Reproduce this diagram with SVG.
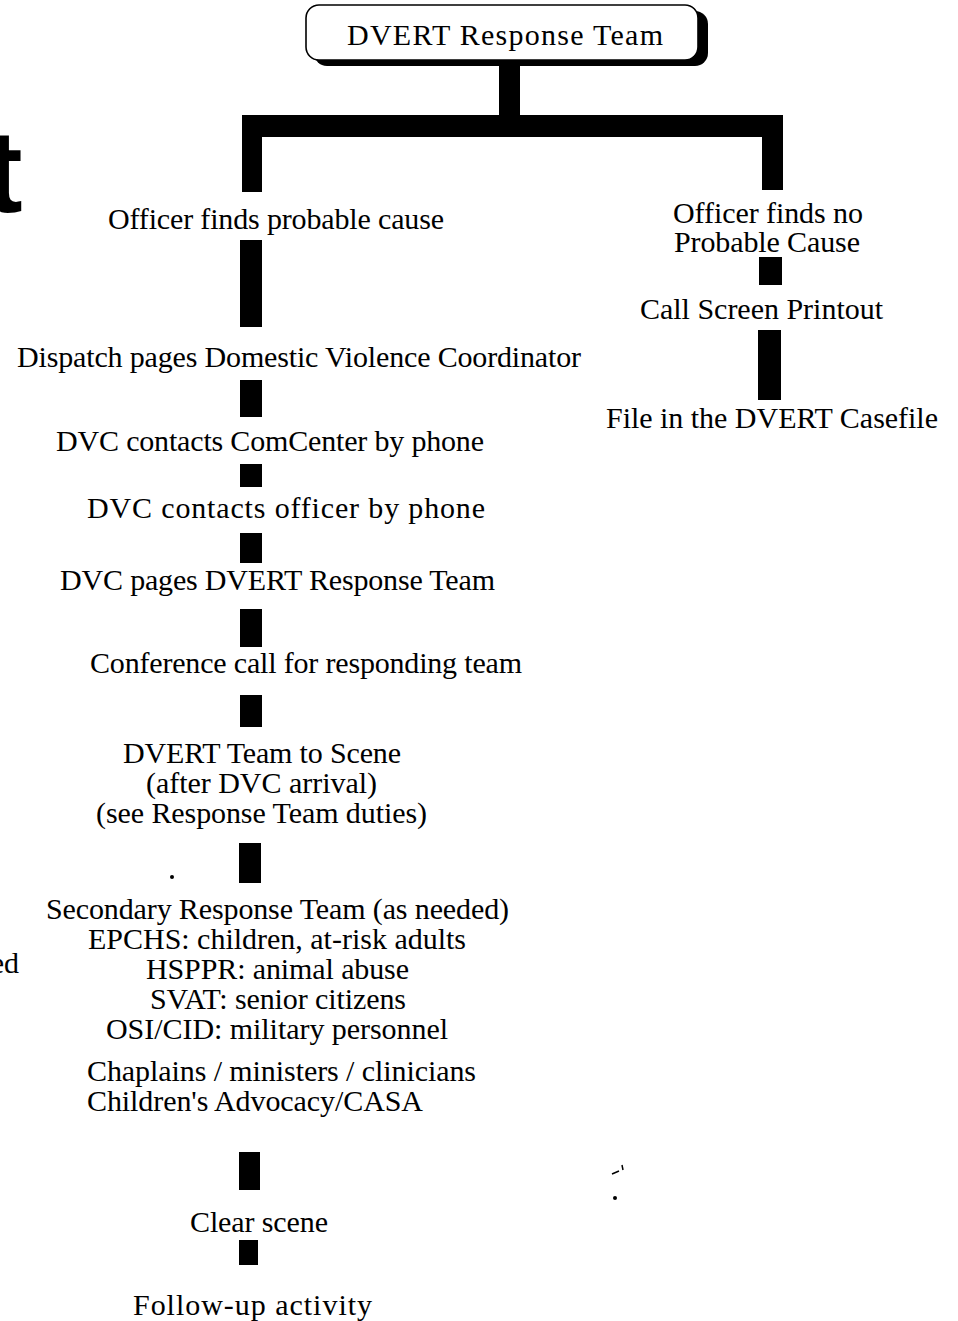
<svg xmlns="http://www.w3.org/2000/svg" width="958" height="1321" viewBox="0 0 958 1321">
<style>
  .t { font-family: "Liberation Serif", "Times New Roman", serif; font-size: 30px; fill: #000; }
  .tc { text-anchor: middle; }
  .bar { fill: #000; }
</style>
<rect x="0" y="0" width="958" height="1321" fill="#fff"/>

<g id="connectors">
  <rect class="bar" x="499" y="62" width="21" height="55"/>
  <rect class="bar" x="242" y="115" width="541" height="22"/>
  <rect class="bar" x="242" y="115" width="20" height="77"/>
  <rect class="bar" x="762" y="115" width="21" height="75"/>
  <rect class="bar" x="240" y="240" width="22" height="87"/>
  <rect class="bar" x="240" y="380" width="22" height="37"/>
  <rect class="bar" x="240" y="464" width="22" height="23"/>
  <rect class="bar" x="240" y="533" width="22" height="30"/>
  <rect class="bar" x="240" y="609" width="22" height="38"/>
  <rect class="bar" x="240" y="695" width="22" height="32"/>
  <rect class="bar" x="239" y="843" width="22" height="40"/>
  <rect class="bar" x="239" y="1152" width="21" height="38"/>
  <rect class="bar" x="239" y="1240" width="19" height="25"/>
  <rect class="bar" x="759" y="257" width="23" height="28"/>
  <rect class="bar" x="758" y="330" width="23" height="70"/>
</g>

<g id="node-top">
  <rect x="314" y="11" width="394" height="55" rx="13" fill="#000"/>
  <rect x="306" y="5" width="392" height="55" rx="13" fill="#fff" stroke="#000" stroke-width="1.6"/>
  <text class="t tc" x="505" y="45" font-size="32" textLength="316">DVERT Response Team</text>
</g>

<g id="node-probable">
  <text class="t" x="108" y="229" textLength="336">Officer finds probable cause</text>
</g>
<g id="node-noprobable">
  <text class="t tc" x="768" y="223" textLength="190">Officer finds no</text>
  <text class="t tc" x="767" y="252" textLength="186">Probable Cause</text>
</g>
<g id="node-callscreen">
  <text class="t" x="640" y="319" textLength="243">Call Screen Printout</text>
</g>
<g id="node-file">
  <text class="t" x="606" y="428" textLength="332">File in the DVERT Casefile</text>
</g>
<g id="node-dispatch">
  <text class="t" x="17" y="367" textLength="564">Dispatch pages Domestic Violence Coordinator</text>
</g>
<g id="node-comcenter">
  <text class="t" x="56" y="451" textLength="428">DVC contacts ComCenter by phone</text>
</g>
<g id="node-officerphone">
  <text class="t" x="87" y="518" font-size="31" textLength="398">DVC contacts officer by phone</text>
</g>
<g id="node-pages">
  <text class="t" x="60" y="590" textLength="435">DVC pages DVERT Response Team</text>
</g>
<g id="node-conference">
  <text class="t" x="90" y="673" textLength="432">Conference call for responding team</text>
</g>
<g id="node-scene">
  <text class="t" x="123" y="763" textLength="278">DVERT Team to Scene</text>
  <text class="t" x="146" y="793" textLength="231">(after DVC arrival)</text>
  <text class="t" x="96" y="823" textLength="331">(see Response Team duties)</text>
</g>
<g id="node-secondary">
  <text class="t" x="46" y="919" textLength="463">Secondary Response Team (as needed)</text>
  <text class="t" x="88" y="949" textLength="378">EPCHS: children, at-risk adults</text>
  <text class="t" x="146" y="979" textLength="263">HSPPR: animal abuse</text>
  <text class="t" x="150" y="1009" textLength="256">SVAT: senior citizens</text>
  <text class="t" x="106" y="1039" textLength="342">OSI/CID: military personnel</text>
  <text class="t" x="87" y="1081" textLength="389">Chaplains / ministers / clinicians</text>
  <text class="t" x="87" y="1111" textLength="336">Children's Advocacy/CASA</text>
</g>
<g id="node-clear">
  <text class="t" x="190" y="1232" textLength="138">Clear scene</text>
</g>
<g id="node-followup">
  <text class="t" x="133" y="1315" font-size="31" textLength="239">Follow-up activity</text>
</g>

<g id="fragments">
  <text x="-16" y="212" font-family="Liberation Sans, Arial, sans-serif" font-weight="bold" font-size="116">t</text>
  <text class="t" x="19" y="973" text-anchor="end">ed</text>
  <circle cx="172" cy="877" r="2" fill="#000"/>
  <circle cx="615" cy="1198" r="2" fill="#000"/>
  <path d="M612 1174 L619 1171 M622 1165 L623 1170" stroke="#000" stroke-width="1.5" fill="none"/>
</g>
</svg>
